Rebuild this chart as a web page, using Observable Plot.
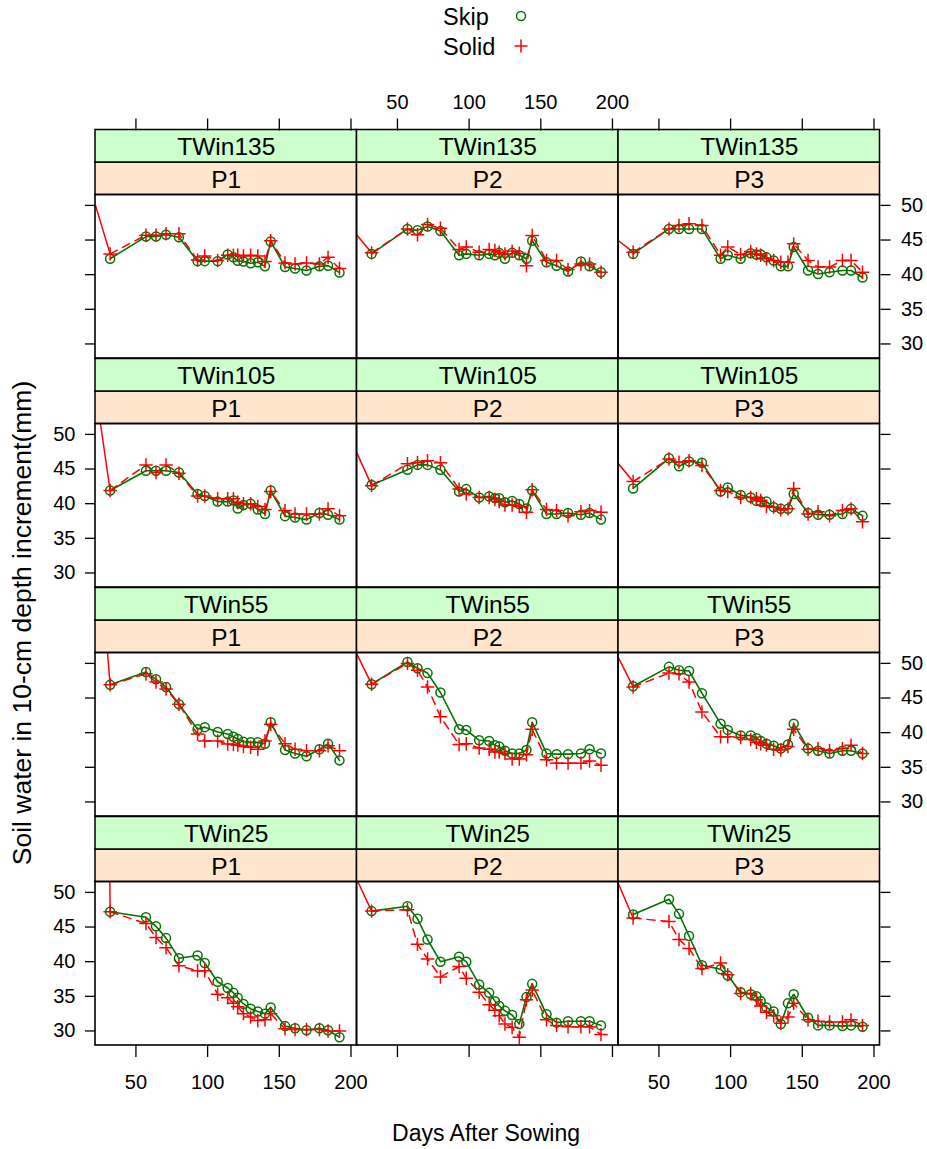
<!DOCTYPE html>
<html><head><meta charset="utf-8">
<script src="https://cdn.jsdelivr.net/npm/d3@7"></script>
<script src="https://cdn.jsdelivr.net/npm/@observablehq/plot@0.6"></script>
<style>
body{margin:0;background:#fff;font-family:"Liberation Sans",Arial,sans-serif}
#wrap{position:relative;width:927px;height:1149px;overflow:hidden;background:#fff}
#wrap svg{position:absolute;left:0;top:0}
.lab{position:absolute;white-space:nowrap;color:#000;font-family:"Liberation Sans",Arial,sans-serif}
</style></head><body><div id="wrap"></div>
<script>
// ---- data ----
const days = [32,57,64,71,80,93,98,107,114,118,121,125,130,135,140,144,154,161,169,178,184,192];
const plantings = ["P1","P2","P3"];
const twins = ["TWin135","TWin105","TWin55","TWin25"];
const xTicks = [50,100,150,200];
const yTicks = [30,35,40,45,50];

const skip_TWin135_P1 = [42.3,45.5,45.5,45.75,45.4,41.95,41.95,41.95,42.9,42.5,42.0,41.9,41.65,41.8,41.2,44.8,41.1,40.9,40.6,41.2,41.3,40.3];
const solid_TWin135_P1 = [43.0,45.7,45.7,45.9,45.9,42.1,42.7,42.05,42.8,42.8,42.8,42.7,42.8,42.7,41.9,44.9,41.7,41.55,41.7,41.55,42.5,40.9];
const skip_TWin135_P2 = [43.0,46.6,46.4,46.95,46.3,42.8,43.0,42.8,43.0,42.8,43.15,42.3,43.15,42.8,42.3,44.9,41.8,41.3,40.45,41.9,41.2,40.35];
const solid_TWin135_P2 = [43.15,46.6,45.75,47.25,46.7,43.65,44.0,43.25,43.65,43.5,43.25,43.0,43.4,43.1,41.3,45.65,42.05,42.05,40.75,41.55,41.55,40.35];
const skip_TWin135_P3 = [43.0,46.6,46.6,46.6,46.6,42.3,42.8,42.3,43.1,42.9,42.9,42.5,42.05,41.2,41.2,44.0,40.6,40.1,40.35,40.6,40.6,39.6];
const solid_TWin135_P3 = [43.25,46.6,47.1,47.35,47.1,42.8,44.0,42.9,43.35,43.0,42.8,42.3,42.05,41.8,41.8,44.45,42.05,41.1,41.1,42.05,42.05,40.35];

const skip_TWin105_P1 = [41.9,44.75,44.75,44.75,44.5,41.4,41.1,40.3,40.3,40.45,39.3,39.8,40.0,39.15,38.5,41.9,38.2,38.0,37.7,38.65,38.4,37.7];
const solid_TWin105_P1 = [41.9,45.6,44.5,45.6,44.4,41.1,41.1,40.7,40.7,40.7,40.2,40.0,40.0,39.6,39.15,41.75,39.0,38.5,38.5,38.5,39.25,38.25];
const skip_TWin105_P2 = [42.7,44.9,45.6,45.6,44.9,41.75,42.1,40.9,41.05,40.8,40.8,40.2,40.4,39.95,39.3,41.9,38.5,38.5,38.65,38.4,38.65,37.7];
const solid_TWin105_P2 = [42.6,45.75,45.9,46.2,45.9,42.1,41.4,40.9,40.9,40.6,40.3,39.8,39.8,39.6,38.75,42.0,39.15,39.0,38.25,38.85,39.0,38.75];
const skip_TWin105_P3 = [42.2,46.55,45.4,46.1,45.9,41.75,42.35,41.25,40.9,40.4,40.3,40.3,39.5,39.25,39.25,41.4,38.65,38.4,38.4,38.5,39.25,38.25];
const solid_TWin105_P3 = [43.2,46.45,46.0,46.2,45.5,41.9,41.75,40.9,40.9,40.7,40.45,39.6,39.5,39.1,39.25,42.2,38.5,38.85,38.25,39.0,39.25,37.4];

const skip_TWin55_P1 = [46.9,48.75,47.7,46.6,44.1,40.5,40.8,40.1,39.8,39.4,39.1,38.7,38.6,38.6,38.4,41.5,37.5,37.0,36.6,37.6,38.4,36.0];
const solid_TWin55_P1 = [46.9,48.5,47.3,46.3,44.1,39.8,38.8,38.8,38.35,38.3,38.2,38.0,37.9,37.6,38.8,41.2,38.4,37.6,37.4,37.4,38.1,37.4];
const skip_TWin55_P2 = [47.0,50.2,49.3,48.6,45.8,40.5,40.4,38.9,38.8,38.2,38.0,37.4,37.0,37.0,37.5,41.5,37.0,36.9,36.9,37.0,37.6,37.0];
const solid_TWin55_P2 = [47.0,50.0,49.0,46.6,42.3,38.3,38.4,37.8,37.6,37.2,37.2,37.0,36.2,36.2,36.8,40.5,36.1,35.6,35.6,35.6,35.9,35.3];
const skip_TWin55_P3 = [46.7,49.5,49.0,48.9,45.7,41.3,40.4,39.6,39.6,39.2,38.8,38.4,38.1,37.7,38.3,41.3,37.7,37.4,37.0,37.4,37.4,37.0];
const solid_TWin55_P3 = [46.6,48.6,48.5,47.3,43.0,39.4,39.4,39.3,39.0,38.6,38.4,38.2,37.6,37.5,38.0,40.5,37.6,37.7,37.4,37.7,38.2,37.0];

const skip_TWin25_P1 = [47.2,46.4,45.1,43.4,40.5,40.9,39.8,37.1,36.2,35.5,34.8,33.9,33.2,32.8,32.5,33.4,30.7,30.4,30.1,30.4,30.1,29.1];
const solid_TWin25_P1 = [47.2,45.5,43.5,42.0,39.4,38.7,38.7,35.3,34.8,34.0,33.5,32.5,32.0,31.5,31.6,32.5,30.3,30.2,30.2,30.2,30.0,30.0];
const skip_TWin25_P2 = [47.3,48.0,46.2,43.2,40.0,40.7,40.0,36.7,35.5,34.3,33.6,32.9,32.3,31.0,34.9,36.8,32.4,31.2,31.4,31.4,31.4,30.8];
const solid_TWin25_P2 = [47.3,47.5,42.5,40.4,37.8,39.3,37.6,35.6,33.8,33.0,32.2,31.0,30.5,29.1,34.5,35.9,31.6,30.8,30.6,30.6,30.6,29.5];
const skip_TWin25_P3 = [46.8,49.0,46.9,43.7,39.5,38.9,38.0,35.6,35.3,35.0,34.3,33.4,32.8,31.0,34.0,35.3,31.9,30.8,30.8,30.7,30.8,30.6];
const solid_TWin25_P3 = [46.3,45.8,43.2,41.9,39.0,39.8,38.1,35.4,35.4,34.5,33.6,32.7,32.2,31.1,32.0,34.0,31.6,31.4,31.3,31.3,31.6,30.8];

// start of the Solid curve where it enters each panel (day, value), rows TWin135..TWin25, cols P1..P3
const leadDay = [[21.8,21.8,21.8],[25.3,21.8,21.8],[30.2,21.8,21.8],[31.8,22.5,21.8]];
const leadValue = [[50.0,45.7,44.9],[51.5,47.3,45.75],[51.5,51.3,50.8],[51.5,51.5,51.2]];

// ---- tables built from the arrays ----
const skipRows = [
  [skip_TWin135_P1, skip_TWin135_P2, skip_TWin135_P3],
  [skip_TWin105_P1, skip_TWin105_P2, skip_TWin105_P3],
  [skip_TWin55_P1, skip_TWin55_P2, skip_TWin55_P3],
  [skip_TWin25_P1, skip_TWin25_P2, skip_TWin25_P3]
];
const solidRows = [
  [solid_TWin135_P1, solid_TWin135_P2, solid_TWin135_P3],
  [solid_TWin105_P1, solid_TWin105_P2, solid_TWin105_P3],
  [solid_TWin55_P1, solid_TWin55_P2, solid_TWin55_P3],
  [solid_TWin25_P1, solid_TWin25_P2, solid_TWin25_P3]
];

// ---- layout ----
const PW = 927, PH = 1149;
const W = 261.5, H = 163.5, SH = 32.5;
const colLeft = [95, 356.5, 618];
const rowTop = [194.5, 423.5, 652.5, 881.5];
const xD = [21.8, 204.2];
const yLo = 27.9, yHi = 51.5;
const u = H / (yHi - yLo);
const stripU = SH / u;
const yTop = yHi + 2 * stripU;
const GREEN = "#007400", RED = "#ff0000", PEACH = "#ffe5cc", MINT = "#ccffcc";
const FONT = "'Liberation Sans', Arial, sans-serif";
const TICKFS = 20, STRIPFS = 24.5;

const wrap = document.getElementById("wrap");
const xMid = (xD[0] + xD[1]) / 2;

for (let r = 0; r < 4; r++) {
  for (let c = 0; c < 3; c++) {
    const sk = days.map((d, i) => ({day: d, value: skipRows[r][c][i]}));
    const so = days.map((d, i) => ({day: d, value: solidRows[r][c][i]}));
    const lead = [{day: leadDay[r][c], value: leadValue[r][c]}, so[0]];
    const marks = [
      Plot.line(lead, {x: "day", y: "value", stroke: RED, strokeWidth: 1.5, clip: true}),
      Plot.line(sk, {x: "day", y: "value", stroke: GREEN, strokeWidth: 1.6, clip: true}),
      Plot.line(so, {x: "day", y: "value", stroke: RED, strokeWidth: 1.5, strokeDasharray: "8,6", clip: true}),
      Plot.dot(sk, {x: "day", y: "value", r: 4.5, stroke: GREEN, strokeWidth: 1.5, fill: "none"}),
      Plot.dot(so, {x: "day", y: "value", r: 4.4, symbol: "plus", stroke: RED, strokeWidth: 1.5}),
      Plot.rect([plantings[c]], {x1: () => xD[0], x2: () => xD[1], y1: () => yHi, y2: () => yHi + stripU, fill: PEACH, stroke: "#000", strokeWidth: 1.5}),
      Plot.rect([twins[r]], {x1: () => xD[0], x2: () => xD[1], y1: () => yHi + stripU, y2: () => yTop, fill: MINT, stroke: "#000", strokeWidth: 1.5}),
      Plot.text([plantings[c]], {x: () => xMid, y: () => yHi + stripU / 2, text: d => d, fontSize: STRIPFS, fill: "#000", dy: 1}),
      Plot.text([twins[r]], {x: () => xMid, y: () => yHi + 1.5 * stripU, text: d => d, fontSize: STRIPFS, fill: "#000", dy: 1}),
      Plot.rect([0], {x1: () => xD[0], x2: () => xD[1], y1: () => yLo, y2: () => yHi, fill: "none", stroke: "#000", strokeWidth: 1.6})
    ];
    if (r === 3) marks.push(Plot.axisX(xTicks, {anchor: "bottom", tickSize: 12, tickPadding: 17, fontSize: TICKFS, strokeWidth: 1.3, label: null, tickFormat: c === 1 ? () => "" : d => String(d)}));
    if (r === 0) marks.push(Plot.axisX(xTicks, {anchor: "top", tickSize: 12, tickPadding: 9, fontSize: TICKFS, strokeWidth: 1.3, label: null, tickFormat: c === 1 ? d => String(d) : () => ""}));
    if (c === 0) marks.push(Plot.axisY(yTicks, {anchor: "left", tickSize: 10, tickPadding: 10, fontSize: TICKFS, strokeWidth: 1.3, label: null, tickFormat: (r === 1 || r === 3) ? d => String(d) : () => ""}));
    if (c === 2) marks.push(Plot.axisY(yTicks, {anchor: "right", tickSize: 10, tickPadding: 11, fontSize: TICKFS, strokeWidth: 1.3, label: null, tickFormat: (r === 0 || r === 2) ? d => String(d) : () => ""}));

    const top = rowTop[r] - 2 * SH;
    const svg = Plot.plot({
      width: PW, height: PH,
      marginLeft: colLeft[c], marginRight: PW - colLeft[c] - W,
      marginTop: top, marginBottom: PH - rowTop[r] - H,
      x: {domain: xD, axis: null, label: null},
      y: {domain: [yLo, yTop], axis: null, label: null},
      style: {background: "transparent", fontFamily: FONT, color: "#000", overflow: "visible"},
      marks
    });
    wrap.appendChild(svg);
  }
}

// legend
const leg = document.createElement("div");
leg.innerHTML = `
<div class="lab" style="left:443px;top:2px;font-size:23.5px;line-height:30px">Skip<br>Solid</div>
<svg width="30" height="64" style="position:absolute;left:506px;top:0px;overflow:visible">
  <circle cx="15" cy="16" r="4.5" fill="none" stroke="${GREEN}" stroke-width="1.5"/>
  <path d="M8.5,46H21.5M15,39.5V52.5" stroke="${RED}" stroke-width="1.5" fill="none"/>
</svg>`;
wrap.appendChild(leg);

const xt = document.createElement("div");
xt.className = "lab";
xt.textContent = "Days After Sowing";
xt.style.cssText = "left:486px;top:1133px;transform:translate(-50%,-50%);font-size:23px";
wrap.appendChild(xt);

const yt = document.createElement("div");
yt.className = "lab";
yt.textContent = "Soil water in 10-cm depth increment(mm)";
yt.style.cssText = "left:22px;top:623px;transform:translate(-50%,-50%) rotate(-90deg);font-size:26.5px";
wrap.appendChild(yt);
</script>
</body></html>
